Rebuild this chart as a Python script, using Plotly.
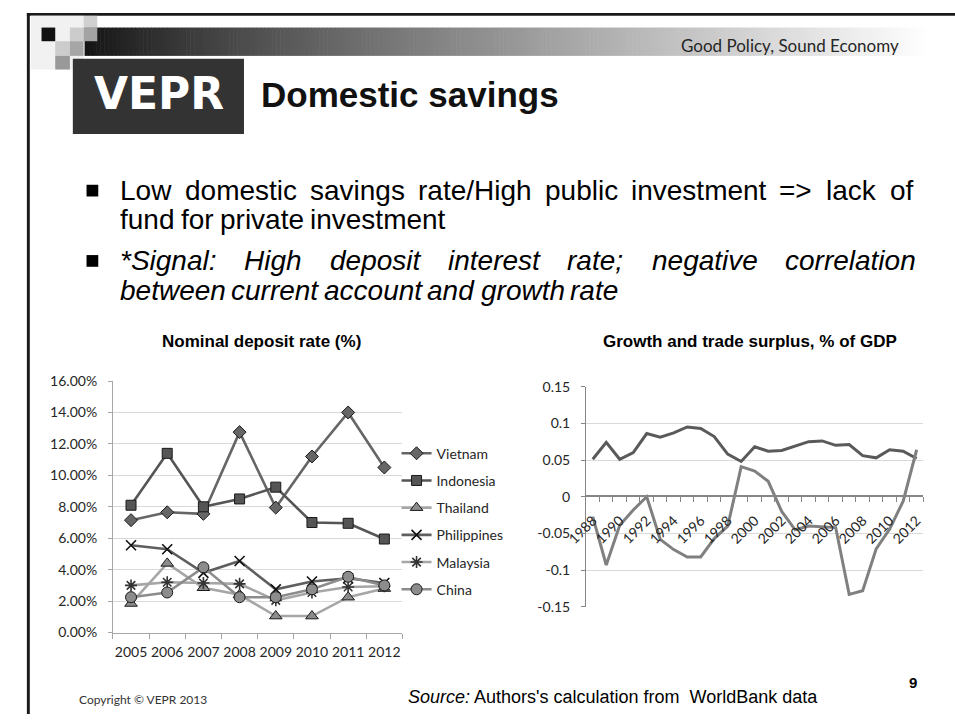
import plotly.graph_objects as go

W, H = 955, 722

# ---- Nominal deposit rate (%), 2005-2012 ----
dep_years = [2005, 2006, 2007, 2008, 2009, 2010, 2011, 2012]
vietnam = [7.15, 7.65, 7.55, 12.75, 7.95, 11.2, 14.0, 10.5]
indonesia = [8.1, 11.4, 8.0, 8.5, 9.25, 7.0, 6.95, 5.95]
thailand = [1.85, 4.4, 2.85, 2.4, 1.05, 1.05, 2.25, 2.8]
philippines = [5.55, 5.3, 3.8, 4.55, 2.75, 3.25, 3.45, 3.15]
malaysia = [3.0, 3.2, 3.15, 3.1, 2.05, 2.55, 2.9, 2.95]
china = [2.25, 2.55, 4.15, 2.25, 2.25, 2.75, 3.55, 3.0]
dep_ticks = [0, 2, 4, 6, 8, 10, 12, 14, 16]
dep_tick_text = ["0.00%", "2.00%", "4.00%", "6.00%", "8.00%", "10.00%",
                 "12.00%", "14.00%", "16.00%"]

# ---- Growth and trade surplus, % of GDP, 1988-2012 ----
gdp_years = [1988, 1989, 1990, 1991, 1992, 1993, 1994, 1995, 1996, 1997,
             1998, 1999, 2000, 2001, 2002, 2003, 2004, 2005, 2006, 2007,
             2008, 2009, 2010, 2011, 2012]
growth = [0.051, 0.074, 0.051, 0.060, 0.086, 0.081, 0.087, 0.095, 0.093, 0.082,
          0.058, 0.048, 0.068, 0.062, 0.063, 0.069, 0.075, 0.076, 0.070, 0.071,
          0.056, 0.053, 0.064, 0.062, 0.052]
trade_surplus = [-0.027, -0.093, -0.039, -0.018, 0.0, -0.058, -0.072, -0.082, -0.082, -0.057,
                 -0.040, 0.041, 0.035, 0.021, -0.020, -0.045, -0.040, -0.041, -0.042, -0.133,
                 -0.128, -0.071, -0.044, -0.006, 0.064]
gdp_ticks = [-0.15, -0.1, -0.05, 0, 0.05, 0.1, 0.15]
gdp_tick_text = ["-0.15", "-0.1", "-0.05", "0", "0.05", "0.1", "0.15"]
gdp_year_labels = [1988, 1990, 1992, 1994, 1996, 1998, 2000, 2002, 2004,
                   2006, 2008, 2010, 2012]


def px(x):
    return x / W


def py(y):
    return 1 - y / H


# Helvetica/Arial advance widths (1/1000 em) for laying out justified text
ARIAL_W = {
    ' ': 278, '*': 389, '/': 278, ':': 278, ';': 278, '=': 584, '>': 584,
    ',': 278, '.': 278, "'": 191, '(': 333, ')': 333, '%': 889,
    'A': 667, 'B': 667, 'H': 722, 'L': 556, 'S': 667, 'W': 944,
    'a': 556, 'b': 556, 'c': 500, 'd': 556, 'e': 556, 'f': 278, 'g': 556,
    'h': 556, 'i': 222, 'k': 500, 'l': 222, 'm': 833, 'n': 556, 'o': 556,
    'p': 556, 'r': 333, 's': 500, 't': 278, 'u': 556, 'v': 500, 'w': 722,
}


def text_w(s, size):
    return sum(ARIAL_W.get(ch, 556) for ch in s) * size / 1000.0


fig = go.Figure()

# ---- left chart series ----
series = [
    ("Vietnam", vietnam, "#666666", "diamond", 10, "#666666", "#1a1a1a"),
    ("Indonesia", indonesia, "#555555", "square", 10, "#555555", "#1a1a1a"),
    ("Thailand", thailand, "#a6a6a6", "triangle-up", 11, "#8c8c8c", "#1a1a1a"),
    ("Philippines", philippines, "#5f5f5f", "x-thin", 10, "#111111", "#111111"),
    ("Malaysia", malaysia, "#a6a6a6", "asterisk-open", 10, "#333333", "#333333"),
    ("China", china, "#8c8c8c", "circle", 11, "#8c8c8c", "#1a1a1a"),
]
for name, vals, lc, sym, sz, fill, mlc in series:
    mline = dict(color=mlc, width=1.6 if sym in ("x-thin", "asterisk-open") else 1)
    fig.add_trace(go.Scatter(
        x=dep_years, y=vals, name=name, mode="lines+markers",
        line=dict(color=lc, width=2.6),
        marker=dict(symbol=sym, size=sz, color=fill, line=mline),
        xaxis="x", yaxis="y", legendgroup=name,
        hovertemplate="%{x}: %{y:.2f}%<extra>" + name + "</extra>",
    ))

# ---- right chart series ----
fig.add_trace(go.Scatter(
    x=gdp_years, y=growth, name="Growth", mode="lines",
    line=dict(color="#5a5a5a", width=3), xaxis="x2", yaxis="y2",
    showlegend=False,
))
fig.add_trace(go.Scatter(
    x=gdp_years, y=trade_surplus, name="Trade surplus", mode="lines",
    line=dict(color="#808080", width=3), xaxis="x2", yaxis="y2",
    showlegend=False,
))

tick_font = dict(family="Lato, Open Sans, sans-serif", size=14, color="#262626")

# ---- decorative slide elements ----
shapes = []
# slide border (top and left)
shapes.append(dict(type="rect", xref="paper", yref="paper", x0=px(6), x1=1, y0=py(7), y1=py(4),
                   fillcolor="#1a1a1a", line=dict(width=0), layer="below"))
shapes.append(dict(type="rect", xref="paper", yref="paper", x0=px(6), x1=px(9), y0=0, y1=py(4),
                   fillcolor="#1a1a1a", line=dict(width=0), layer="below"))
# header gradient band
gx0, gx1, step = 65, 925, 4
x = gx0
while x < gx1:
    t = (x - gx0) / (gx1 - gx0)
    g = int(20 + 235 * (t ** 0.85))
    shapes.append(dict(type="rect", xref="paper", yref="paper",
                       x0=px(x), x1=px(min(x + step + 0.6, gx1)), y0=py(48), y1=py(19),
                       fillcolor="rgb(%d,%d,%d)" % (g, g, g), line=dict(width=0), layer="below"))
    x += step
# corner squares
shapes.append(dict(type="rect", xref="paper", yref="paper", x0=px(10), x1=px(64), y0=py(62), y1=py(7),
                   fillcolor="#f1f1f1", line=dict(width=0), layer="below"))
for (a, b, c, d, col) in [
    (64, 7, 78, 19, "#d0d0d0"),
    (21, 19, 35, 33, "#111111"),
    (50, 19, 64, 33, "#cccccc"),
    (64, 19, 78, 33, "#a3a3a3"),
    (35, 33, 50, 48, "#cccccc"),
    (50, 33, 64, 48, "#a6a6a6"),
    (35, 48, 50, 62, "#999999"),
]:
    shapes.append(dict(type="rect", xref="paper", yref="paper", x0=px(a), x1=px(c), y0=py(d), y1=py(b),
                       fillcolor=col, line=dict(width=0), layer="below"))
# logo box
shapes.append(dict(type="rect", xref="paper", yref="paper", x0=px(53), x1=px(228), y0=py(128), y1=py(51),
                   fillcolor="#333333", line=dict(width=0), layer="below"))

annotations = []


def note(text, x, y, size, family="Liberation Sans, Arial, sans-serif", color="#000000",
         xanchor="left", yanchor="middle"):
    annotations.append(dict(text=text, x=px(x), y=py(y), xref="paper", yref="paper",
                            xanchor=xanchor, yanchor=yanchor, showarrow=False,
                            font=dict(family=family, size=size, color=color)))


note("Good Policy, Sound Economy", 786, 37, 17, family="Lato, Open Sans, sans-serif",
     color="#262626", xanchor="center")
note("<b>VEPR</b>", 141, 87, 44, family="DejaVu Sans, sans-serif", color="#ffffff", xanchor="center")
note("<b>Domestic savings</b>", 243, 88, 35, color="#111111")

# bullet points (justified body text)
BODY = 28
TX0, TX1 = 100, 911
bullets = [
    (["Low domestic savings rate/High public investment => lack of",
      "fund for private investment"], False, 186),
    (["*Signal: High deposit interest rate; negative correlation",
      "between current account and growth rate"], True, 258),
]
for lines, italic, y0 in bullets:
    shapes.append(dict(type="rect", xref="paper", yref="paper", x0=px(67), x1=px(79),
                       y0=py(y0 + 6), y1=py(y0 - 6), fillcolor="#000000", line=dict(width=0)))
    for li, line in enumerate(lines):
        yc = y0 + li * 30
        words = line.split(" ")
        widths = [text_w(w, BODY) for w in words]
        last = li == len(lines) - 1
        gap = text_w(" ", BODY) if last else (TX1 - TX0 - sum(widths)) / (len(words) - 1)
        xx = TX0
        for w, wd in zip(words, widths):
            t = w.replace(">", "&gt;")
            note("<i>%s</i>" % t if italic else t, xx - 1, yc, BODY)
            xx += wd + gap

# chart titles
note("<b>Nominal deposit rate (%)</b>", 246, 341, 17, xanchor="center")
note("<b>Growth and trade surplus, % of GDP</b>", 745, 341, 17, xanchor="center")

# footer
note("Copyright © VEPR 2013", 57, 707, 12, family="Lato, Open Sans, sans-serif", color="#333333")
note("<i>Source:</i> Authors's calculation from  WorldBank data", 394, 705, 18)
note("<b>9</b>", 912, 690, 15, xanchor="center")

fig.update_layout(
    width=W, height=H,
    margin=dict(l=0, r=0, t=0, b=0),
    paper_bgcolor="#ffffff", plot_bgcolor="rgba(0,0,0,0)",
    showlegend=True,
    legend=dict(x=px(384), y=py(439), xanchor="left", yanchor="top",
                font=tick_font, tracegroupgap=6, bgcolor="rgba(0,0,0,0)",
                itemwidth=30),
    shapes=shapes,
    annotations=annotations,
    xaxis=dict(domain=[px(94), px(390)], range=[2004.5, 2012.5], anchor="y",
               tickvals=dep_years, ticks="outside", ticklen=7, tickcolor="rgba(0,0,0,0)",
               showgrid=False, zeroline=False, showline=True, linecolor="#a6a6a6", linewidth=1,
               tickfont=tick_font,
               minor=dict(tick0=2004.5, dtick=1, ticks="outside", ticklen=5,
                          tickcolor="#a6a6a6", showgrid=False)),
    yaxis=dict(domain=[py(638.6), py(381)], range=[0, 16], anchor="x",
               tickvals=dep_ticks, ticktext=dep_tick_text,
               showgrid=True, gridcolor="#d9d9d9", gridwidth=1, zeroline=False,
               showline=True, linecolor="#a6a6a6", linewidth=1,
               ticks="outside", ticklen=4, tickcolor="#a6a6a6",
               ticklabelstandoff=8, tickfont=tick_font),
    xaxis2=dict(domain=[px(577.7), px(922.7)], range=[1987.5, 2012.5],
                anchor="free", position=py(499),
                tickvals=gdp_year_labels, tickangle=-45,
                ticks="outside", ticklen=10, tickcolor="rgba(0,0,0,0)",
                showgrid=False, zeroline=False, showline=True, linecolor="#868686", linewidth=1.5,
                tickfont=tick_font,
                minor=dict(tick0=1987.5, dtick=1, ticks="outside", ticklen=5,
                           tickcolor="#868686", showgrid=False)),
    yaxis2=dict(domain=[py(612.3), py(386.7)], range=[-0.15, 0.15], anchor="x2",
                tickvals=gdp_ticks, ticktext=gdp_tick_text,
                showgrid=True, gridcolor="#d9d9d9", gridwidth=1, zeroline=False,
                showline=True, linecolor="#868686", linewidth=1,
                ticks="outside", ticklen=4, tickcolor="#868686",
                ticklabelstandoff=8, tickfont=tick_font),
)

fig.write_html("out.html")
